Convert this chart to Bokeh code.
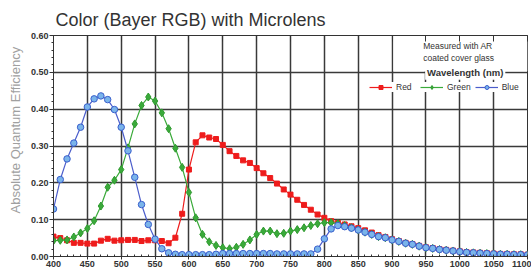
import math
from bokeh.plotting import figure
from bokeh.models import (Range1d, LinearAxis, FixedTicker, NumeralTickFormatter,
                          CustomJSTickFormatter, Label, BoxAnnotation, Legend, LegendItem, Title)
from bokeh.embed import file_html
from bokeh.resources import INLINE

wavelength = list(range(400, 1101, 10))

red = [0.054, 0.050, 0.044, 0.037, 0.037, 0.035, 0.035, 0.043, 0.048, 0.043,
       0.044, 0.045, 0.045, 0.042, 0.044, 0.044, 0.042, 0.036, 0.051, 0.116,
       0.236, 0.310, 0.329, 0.323, 0.319, 0.303, 0.286, 0.273, 0.261, 0.254,
       0.240, 0.226, 0.213, 0.198, 0.182, 0.168, 0.154, 0.140, 0.127, 0.114,
       0.105, 0.096, 0.091, 0.087, 0.082, 0.077, 0.071, 0.065, 0.058, 0.053,
       0.047, 0.042, 0.037, 0.034, 0.029, 0.025, 0.023, 0.020, 0.018, 0.016,
       0.014, 0.012, 0.011, 0.010, 0.009, 0.008, 0.007, 0.007, 0.006, 0.006, 0.005]

green = [0.043, 0.044, 0.045, 0.053, 0.064, 0.076, 0.097, 0.137, 0.188, 0.207,
         0.236, 0.295, 0.360, 0.410, 0.433, 0.422, 0.390, 0.347, 0.294, 0.242,
         0.174, 0.105, 0.060, 0.040, 0.030, 0.024, 0.021, 0.025, 0.033, 0.045,
         0.060, 0.069, 0.069, 0.062, 0.063, 0.069, 0.073, 0.078, 0.084, 0.089,
         0.092, 0.092, 0.089, 0.084, 0.078, 0.072, 0.066, 0.060, 0.054, 0.051,
         0.045, 0.041, 0.036, 0.033, 0.028, 0.024, 0.022, 0.019, 0.017, 0.015,
         0.013, 0.011, 0.010, 0.009, 0.008, 0.007, 0.006, 0.006, 0.005, 0.005, 0.004]

blue = [0.129, 0.209, 0.265, 0.308, 0.351, 0.406, 0.428, 0.436, 0.426, 0.399,
        0.351, 0.287, 0.215, 0.141, 0.087, 0.047, 0.021, 0.010, 0.006, 0.005,
        0.005, 0.005, 0.005, 0.005, 0.006, 0.008, 0.008, 0.008, 0.008, 0.008,
        0.008, 0.008, 0.008, 0.007, 0.007, 0.007, 0.007, 0.007, 0.007, 0.020,
        0.048, 0.075, 0.084, 0.081, 0.077, 0.072, 0.066, 0.060, 0.054, 0.051,
        0.045, 0.041, 0.036, 0.033, 0.028, 0.024, 0.022, 0.019, 0.017, 0.015,
        0.013, 0.011, 0.010, 0.009, 0.008, 0.007, 0.006, 0.006, 0.005, 0.005, 0.004]

x_ticks = list(range(400, 1101, 50))
y_ticks = [0.0, 0.1, 0.2, 0.3, 0.4, 0.5, 0.6]

title_text = "Color (Bayer RGB) with Microlens"
y_label_text = "Absolute Quantum Efficiency"
note_text = "Measured with AR\ncoated cover glass"
x_label_text = "Wavelength (nm)"

FONT = "Liberation Sans"
DARK = "#333333"

p = figure(width=531, height=270, output_backend="svg", toolbar_location=None,
           x_range=Range1d(400, 1100), y_range=Range1d(0, 0.6),
           min_border_left=53, min_border_right=4, min_border_top=35,
           min_border_bottom=14, x_axis_location=None, y_axis_location=None)
p.background_fill_color = "white"
p.border_fill_color = "white"
p.outline_line_color = DARK
p.outline_line_width = 1

p.title.text = title_text
p.title.text_font = FONT
p.title.text_font_size = "18px"
p.title.text_font_style = "normal"
p.title.text_color = "#333333"
p.title.align = "left"
p.title.offset = 2
p.title.standoff = 11

# axes
xa = LinearAxis(ticker=FixedTicker(ticks=x_ticks, minor_ticks=list(range(400, 1101, 10))))
xa.major_tick_out = 3
xa.major_tick_in = 0
xa.minor_tick_in = 2
xa.minor_tick_out = 0
xa.major_label_standoff = 1
p.add_layout(xa, "below")

ya = LinearAxis(ticker=FixedTicker(ticks=y_ticks, minor_ticks=[i * 0.02 for i in range(31)]),
                formatter=NumeralTickFormatter(format="0.00"))
ya.major_tick_out = 4
ya.major_tick_in = 0
ya.minor_tick_out = 2
ya.minor_tick_in = 0
ya.major_label_standoff = 1
p.add_layout(ya, "left")

ta = LinearAxis(ticker=FixedTicker(ticks=x_ticks, minor_ticks=[]),
                formatter=CustomJSTickFormatter(code="return ''"))
ta.major_tick_in = 6
ta.major_tick_out = 0
ta.major_label_standoff = 0
ta.major_label_text_font_size = "1px"
p.add_layout(ta, "above")

for ax in (xa, ya, ta):
    ax.axis_line_color = DARK
    ax.major_tick_line_color = DARK
    ax.minor_tick_line_color = DARK
    ax.major_label_text_font = FONT
    ax.major_label_text_font_style = "bold"
    ax.major_label_text_color = DARK
for ax in (xa, ya):
    ax.major_label_text_font_size = "9px"

ylab = Title(text=y_label_text, align="left", offset=43, text_font=FONT,
             text_font_size="13px", text_font_style="normal", text_color="#a0a0a0",
             standoff=10)
p.add_layout(ylab, "left")

p.xgrid.ticker = FixedTicker(ticks=x_ticks)
p.ygrid.ticker = FixedTicker(ticks=y_ticks)
p.grid.grid_line_color = "#3a3a3a"
p.grid.grid_line_width = 1.5

# white note box hiding grid lines
box = BoxAnnotation(left=902, right=1100, bottom=0.503, top=0.6,
                    fill_color="white", fill_alpha=1.0, line_color=None, level="underlay")
p.add_layout(box)

# series
rl = p.line(wavelength, red, line_color="#ee1c1c", line_width=1.2)
rs = p.scatter(wavelength, red, marker="square", size=5, fill_color="#ee1c1c", line_color="#ee1c1c")
gl = p.line(wavelength, green, line_color="#3aaa3a", line_width=1.2)
gs = p.scatter(wavelength, green, marker="diamond", size=8, fill_color="#3aaa3a", line_color="#2f9a2f")
bl = p.line(wavelength, blue, line_color="#4b5dcb", line_width=1.2)
bs = p.scatter(wavelength, blue, marker="circle", size=6.5, fill_color="#7ab4ea", line_color="#3a5fcd", line_width=1)

legend = Legend(items=[LegendItem(label="Red", renderers=[rl, rs]),
                       LegendItem(label="Green", renderers=[gl, gs]),
                       LegendItem(label="Blue", renderers=[bl, bs])],
                orientation="horizontal", location=(316, 164))
legend.label_text_font = FONT
legend.label_text_font_size = "8.5px"
legend.label_text_color = DARK
legend.glyph_width = 23
legend.glyph_height = 10
legend.label_standoff = 4
legend.spacing = 4
legend.padding = 4
legend.margin = 0
legend.background_fill_color = "white"
legend.background_fill_alpha = 1.0
legend.border_line_color = None
p.add_layout(legend, "center")

# texts inside the frame
p.add_layout(Label(x=946, y=0.584, text=note_text, text_font=FONT, text_font_size="8.5px",
                   text_color=DARK, text_align="left", text_baseline="top",
                   text_line_height=1.15))
p.add_layout(Label(x=1008, y=0.5, text=x_label_text, text_font=FONT, text_font_size="9.5px",
                   text_font_style="bold", text_color=DARK, text_align="center",
                   text_baseline="middle", background_fill_color="white", padding=2))

open("out.html", "w").write(file_html(p, INLINE))
